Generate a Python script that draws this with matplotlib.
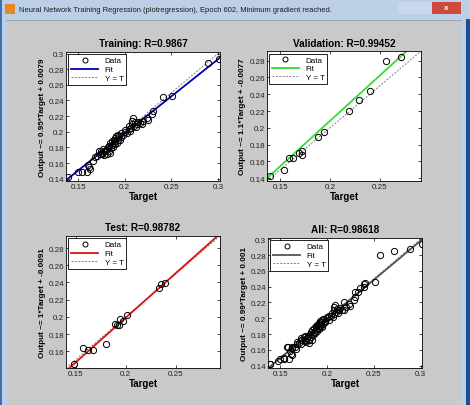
import matplotlib
matplotlib.use('Agg')
import numpy as np
import matplotlib.pyplot as plt
from matplotlib.patches import Rectangle

plt.rcParams['font.family'] = ['Liberation Sans', 'DejaVu Sans']

window_title = 'Neural Network Training Regression (plotregression), Epoch 602, Minimum gradient reached.'

# training set: (target, output)
train_target = [0.139, 0.150, 0.154, 0.159, 0.163, 0.161, 0.162, 0.166, 0.168, 0.170, 0.172, 0.173,
                0.175, 0.176, 0.176, 0.177, 0.178, 0.179, 0.180, 0.181, 0.182, 0.183, 0.183, 0.184,
                0.184, 0.185, 0.186, 0.186, 0.187, 0.188, 0.188, 0.189, 0.190, 0.190, 0.191, 0.192,
                0.193, 0.193, 0.194, 0.195, 0.196, 0.196, 0.198, 0.200, 0.200, 0.202, 0.204, 0.205,
                0.206, 0.207, 0.208, 0.208, 0.209, 0.210, 0.211, 0.212, 0.213, 0.214, 0.216, 0.218,
                0.220, 0.224, 0.225, 0.229, 0.230, 0.2405, 0.251, 0.289, 0.301]
train_output = [0.1425, 0.149, 0.149, 0.149, 0.153, 0.158, 0.155, 0.163, 0.168, 0.169, 0.175, 0.172,
                0.176, 0.173, 0.171, 0.178, 0.170, 0.175, 0.177, 0.172, 0.180, 0.182, 0.176, 0.185,
                0.173, 0.179, 0.183, 0.188, 0.181, 0.186, 0.190, 0.184, 0.192, 0.188, 0.194, 0.186,
                0.190, 0.196, 0.195, 0.189, 0.193, 0.199, 0.196, 0.200, 0.202, 0.198, 0.203, 0.207,
                0.201, 0.205, 0.210, 0.214, 0.217, 0.208, 0.212, 0.206, 0.210, 0.213, 0.211, 0.210,
                0.214, 0.218, 0.215, 0.223, 0.227, 0.244, 0.246, 0.288, 0.2935]

val_target = [0.1394, 0.1536, 0.1586, 0.163, 0.1685, 0.172, 0.172, 0.188, 0.1937, 0.2187, 0.2295,
              0.240, 0.2566, 0.2715]
val_output = [0.142, 0.150, 0.164, 0.1637, 0.170, 0.172, 0.168, 0.189, 0.195, 0.220, 0.2333,
              0.2438, 0.280, 0.2845]

test_target = [0.148, 0.1574, 0.1624, 0.1674, 0.1808, 0.189, 0.1915, 0.1935, 0.1948, 0.1975,
               0.2018, 0.2336, 0.235, 0.2393]
test_output = [0.1457, 0.1639, 0.162, 0.161, 0.1685, 0.192, 0.190, 0.190, 0.1976, 0.195,
               0.2026, 0.2336, 0.2386, 0.239]

all_target = train_target + val_target + test_target
all_output = train_output + val_output + test_output

titles = ['Training: R=0.9867', 'Validation: R=0.99452', 'Test: R=0.98782', 'All: R=0.98618']
ylabels = ['Output ~= 0.95*Target + 0.0079', 'Output ~= 1.1*Target + -0.0077',
           'Output ~= 1*Target + -0.0091', 'Output ~= 0.99*Target + 0.001']
fit_slope = [0.95, 1.08, 1.04, 0.99]
fit_icpt = [0.0079, -0.0077, -0.0091, 0.001]
fit_colors = ['#0000b0', '#33dd33', '#dd1111', '#555555']
lims = [(0.137, 0.302), (0.1365, 0.2915), (0.1405, 0.294), (0.137, 0.3015)]
xticks = [[0.15, 0.2, 0.25, 0.3], [0.15, 0.2, 0.25], [0.15, 0.2, 0.25], [0.15, 0.2, 0.25, 0.3]]
yticks = [[0.14, 0.16, 0.18, 0.2, 0.22, 0.24, 0.26, 0.28, 0.3],
          [0.14, 0.16, 0.18, 0.2, 0.22, 0.24, 0.26, 0.28],
          [0.16, 0.18, 0.2, 0.22, 0.24, 0.26, 0.28],
          [0.14, 0.16, 0.18, 0.2, 0.22, 0.24, 0.26, 0.28, 0.3]]
sets = [(train_target, train_output), (val_target, val_output),
        (test_target, test_output), (all_target, all_output)]

W, H = 470, 406
fig = plt.figure(figsize=(W / 100, H / 100), dpi=100)
fig.patch.set_facecolor('#c9c9c9')

def px_rect(x, y, w, h, color):
    fig.patches.append(Rectangle((x / W, 1 - (y + h) / H), w / W, h / H, transform=fig.transFigure,
                                 facecolor=color, edgecolor='none', zorder=-5))

# window chrome
px_rect(0, 0, W, 21, '#bccfe6')
px_rect(0, 0, 7, H, '#bccfe6')
px_rect(0, 0, 2, H, '#3f6fae')
px_rect(462, 0, 8, H, '#bccfe6')
px_rect(466, 20, 4, H, '#1e4f93')
px_rect(6, 21, 456, 1, '#9aa6b4')
px_rect(5, 5, 10, 10, '#e08a2a')
px_rect(398, 3, 18, 12, '#c7d8ee')
px_rect(416, 3, 16, 12, '#c7d8ee')
px_rect(432, 3, 29, 12, '#cc4b3c')
fig.text(19 / W, 1 - 10 / H, window_title, fontsize=5.4, va='center', ha='left', color='#1a1a1a')
fig.text(446 / W, 1 - 9 / H, 'x', fontsize=6, va='center', ha='center', color='white', fontweight='bold')

positions = [[0.1404, 0.5517, 0.3277, 0.3177], [0.568, 0.5517, 0.3277, 0.3200],
             [0.1404, 0.0911, 0.3277, 0.3251], [0.5702, 0.0911, 0.3277, 0.3202]]

for i, (tx, ty) in enumerate(sets):
    ax = fig.add_axes(positions[i])
    lo, hi = lims[i]
    xs = np.array([lo, hi])
    ax.plot(tx, ty, 'o', mfc='none', mec='black', ms=4.5, mew=0.7, label='Data', zorder=3)
    ax.plot(xs, fit_slope[i] * xs + fit_icpt[i], '-', color=fit_colors[i], lw=1.3, label='Fit', zorder=2)
    ax.plot(xs, xs, linestyle=(0, (2, 1.5)), color='#808080', lw=0.7, label='Y = T', zorder=1)
    ax.set_xlim(lo, hi)
    ax.set_ylim(lo, hi)
    ax.set_xticks(xticks[i])
    ax.set_yticks(yticks[i])
    ax.set_xticklabels([('%g' % v) for v in xticks[i]])
    ax.set_yticklabels([('%g' % v) for v in yticks[i]])
    ax.tick_params(direction='in', length=2.5, width=0.5, labelsize=5.8, top=True, right=True,
                   pad=1.5, colors='black', labelcolor='#222222')
    for s in ax.spines.values():
        s.set_linewidth(0.6)
    ax.set_title(titles[i], fontsize=7.2, fontweight='bold', pad=4)
    ax.set_xlabel('Target', fontsize=7, fontweight='bold', labelpad=1)
    ax.set_ylabel(ylabels[i], fontsize=5.9, fontweight='bold', labelpad=2)
    leg = ax.legend(loc='upper left', fontsize=5.8, fancybox=False, framealpha=1, edgecolor='black',
                    borderpad=0.3, handlelength=3.4, handletextpad=0.8, labelspacing=0.15,
                    borderaxespad=0.3, markerscale=0.8)
    leg.get_frame().set_linewidth(0.6)

fig.savefig('out.png', dpi=100, facecolor=fig.get_facecolor())
